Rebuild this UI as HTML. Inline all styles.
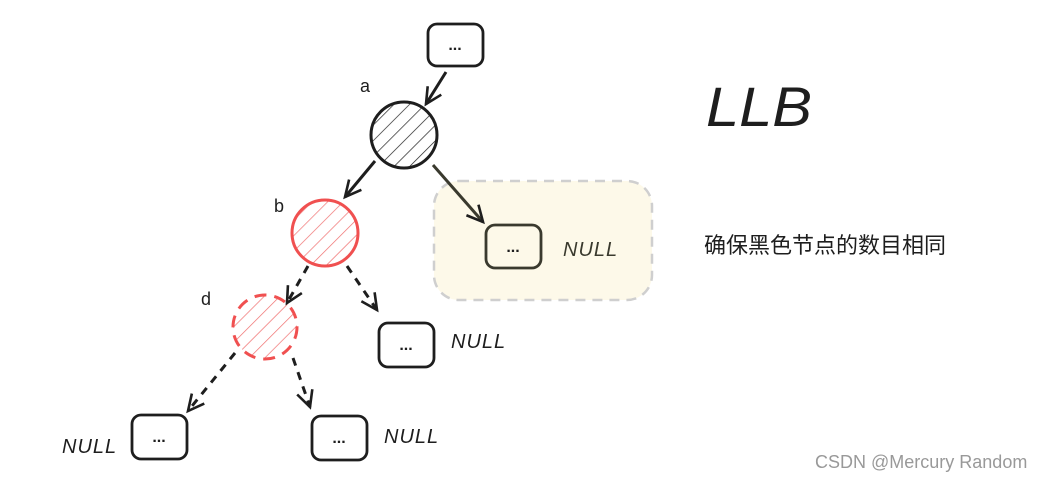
<!DOCTYPE html>
<html><head><meta charset="utf-8"><style>
html,body{margin:0;padding:0;background:#fff;width:1048px;height:481px;overflow:hidden}
svg{display:block}
.t{font-family:"Liberation Sans",sans-serif}
</style></head><body>
<svg width="1048" height="481" viewBox="0 0 1048 481" xmlns="http://www.w3.org/2000/svg">
<defs>
<pattern id="hb" patternUnits="userSpaceOnUse" width="11" height="11" patternTransform="rotate(45)"><line x1="0" y1="0" x2="0" y2="11" stroke="#1e1e1e" stroke-width="1.4"/></pattern>
<pattern id="hr" patternUnits="userSpaceOnUse" width="11" height="11" patternTransform="rotate(45)"><line x1="0" y1="0" x2="0" y2="11" stroke="#f07070" stroke-width="1.4"/></pattern>
<marker id="ar" markerWidth="22" markerHeight="22" refX="18" refY="11" orient="auto" markerUnits="userSpaceOnUse"><path d="M2,3 L18,11 L2,19" fill="none" stroke="#1e1e1e" stroke-width="2.6"/></marker>
</defs>
<rect x="434" y="181" width="218" height="119" rx="25" fill="#fdf9e9" stroke="#cfcfcf" stroke-width="2.5" stroke-dasharray="10 7"/>
<g fill="none" stroke="#1e1e1e" stroke-width="2.8" stroke-linecap="round">
<rect x="428" y="24" width="55" height="42" rx="9"/>
<rect x="486" y="225" width="55" height="43" rx="9" stroke="#3a3a2e"/>
<rect x="379" y="323" width="55" height="44" rx="9"/>
<rect x="132" y="415" width="55" height="44" rx="9"/>
<rect x="312" y="416" width="55" height="44" rx="9"/>
</g>
<circle cx="404" cy="135" r="33" fill="url(#hb)" stroke="#1e1e1e" stroke-width="3"/>
<circle cx="325" cy="233" r="33" fill="url(#hr)" stroke="#f05050" stroke-width="3"/>
<circle cx="265" cy="327" r="32" fill="url(#hr)" stroke="#f05050" stroke-width="3" stroke-dasharray="12 8"/>
<g fill="none" stroke="#1e1e1e" stroke-width="3" marker-end="url(#ar)">
<line x1="446" y1="72" x2="426" y2="104"/>
<line x1="375" y1="161" x2="345" y2="197"/>
<line x1="433" y1="165" x2="483" y2="222" stroke="#3a3a2e"/>
<line x1="308" y1="266" x2="287" y2="303" stroke-dasharray="8 7"/>
<line x1="347" y1="266" x2="377" y2="310" stroke-dasharray="8 7"/>
<line x1="235" y1="353" x2="188" y2="411" stroke-dasharray="8 7"/>
<line x1="293" y1="358" x2="310" y2="407" stroke-dasharray="8 7"/>
</g>
<g class="t" font-size="16" font-weight="bold" fill="#1e1e1e" text-anchor="middle">
<text x="455" y="50">...</text><text x="513" y="252">...</text><text x="406" y="350">...</text><text x="159" y="442">...</text><text x="339" y="443">...</text>
</g>
<g class="t" font-size="20" font-style="italic" fill="#1e1e1e" letter-spacing="1">
<text x="563" y="256" fill="#3a3a2e">NULL</text>
<text x="451" y="348">NULL</text>
<text x="62" y="453">NULL</text>
<text x="384" y="443">NULL</text>
</g>
<g class="t" font-size="18" fill="#1e1e1e">
<text x="360" y="92">a</text><text x="274" y="212">b</text><text x="201" y="305">d</text>
</g>
<text x="706" y="126" class="t" font-size="56" font-style="italic" fill="#1e1e1e" textLength="106" lengthAdjust="spacingAndGlyphs">LLB</text>
<text x="704" y="253" font-family="'Liberation Sans','Noto Sans CJK SC',sans-serif" font-size="22" fill="#1e1e1e">确保黑色节点的数目相同</text>
<text x="815" y="468" class="t" font-size="18" fill="#999">CSDN @Mercury Random</text>
</svg>
</body></html>
